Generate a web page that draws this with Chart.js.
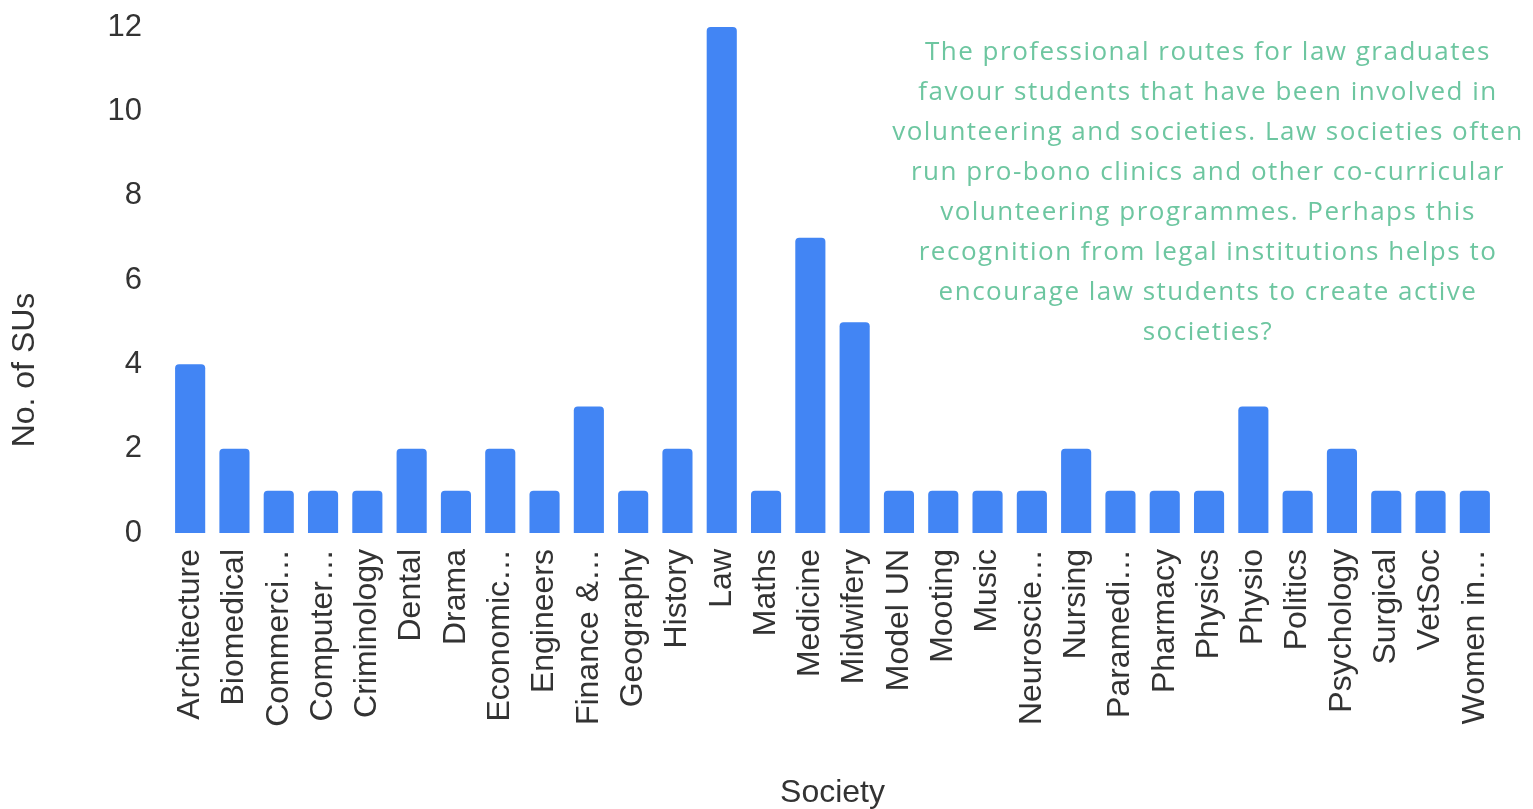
<!DOCTYPE html>
<html>
<head>
<meta charset="utf-8">
<script src="https://cdn.jsdelivr.net/npm/chart.js@4.4.0/dist/chart.umd.min.js"></script>
<style>
  html, body { margin: 0; padding: 0; background: #fff; }
  #wrap { position: relative; width: 1533px; height: 809px; }
  #note {
    position: absolute;
    left: 1208px;
    top: 30px;
    transform: translateX(-50%);
    font-family: "Open Sans", sans-serif;
    font-size: 26px;
    letter-spacing: 1.5px;
    line-height: 40px;
    color: #6dc6a0;
    text-align: center;
    white-space: nowrap;
  }
</style>
</head>
<body>
<div id="wrap">
  <canvas id="chart" width="1533" height="809"></canvas>
  <div id="note">
    The professional routes for law graduates<br>
    favour students that have been involved in<br>
    volunteering and societies. Law societies often<br>
    run pro-bono clinics and other co-curricular<br>
    volunteering programmes. Perhaps this<br>
    recognition from legal institutions helps to<br>
    encourage law students to create active<br>
    societies?
  </div>
</div>
<script>
const societies = [
  "Architecture", "Biomedical", "Commerci…", "Computer…", "Criminology",
  "Dental", "Drama", "Economic…", "Engineers", "Finance &…",
  "Geography", "History", "Law", "Maths", "Medicine",
  "Midwifery", "Model UN", "Mooting", "Music", "Neuroscie…",
  "Nursing", "Paramedi…", "Pharmacy", "Physics", "Physio",
  "Politics", "Psychology", "Surgical", "VetSoc", "Women in…"
];
const suCounts = [
  4, 2, 1, 1, 1,
  2, 1, 2, 1, 3,
  1, 2, 12, 1, 7,
  5, 1, 1, 1, 1,
  2, 1, 1, 1, 3,
  1, 2, 1, 1, 1
];
const yTicks = [0, 2, 4, 6, 8, 10, 12];
const yTitle = "No. of SUs";

const textColor = "#333";
const fontFamily = "'Liberation Sans', Arial, sans-serif";

// y title sits lower than the axis middle in the original, so draw it by hand
const yTitlePlugin = {
  id: "yTitle",
  afterDraw(chart) {
    const c = chart.ctx;
    c.save();
    c.translate(25, 370);
    c.rotate(-Math.PI / 2);
    c.font = "32px " + fontFamily;
    c.fillStyle = textColor;
    c.textAlign = "center";
    c.textBaseline = "middle";
    c.fillText(yTitle, 0, 0);
    c.restore();
  }
};

const ctx = document.getElementById("chart").getContext("2d");

new Chart(ctx, {
  type: "bar",
  data: {
    labels: societies,
    datasets: [{
      label: yTitle,
      data: suCounts,
      backgroundColor: "#4285f4",
      borderRadius: 4,
      categoryPercentage: 1,
      barPercentage: 0.68
    }]
  },
  plugins: [yTitlePlugin],
  options: {
    responsive: false,
    animation: false,
    layout: { padding: { top: 0, right: 36, bottom: 0, left: 0 } },
    plugins: {
      legend: { display: false },
      tooltip: { enabled: false }
    },
    scales: {
      x: {
        grid: { display: false, drawTicks: false },
        border: { display: false },
        ticks: {
          autoSkip: false,
          minRotation: 90,
          maxRotation: 90,
          padding: 16,
          color: textColor,
          font: { family: fontFamily, size: 32 }
        },
        title: {
          display: true,
          text: "Society",
          color: textColor,
          padding: 0,
          font: { family: fontFamily, size: 32, lineHeight: 1 }
        },
        afterFit: s => { s.height = 276; }
      },
      y: {
        min: 0,
        max: 12,
        grid: { display: false, drawTicks: false },
        border: { display: false },
        afterBuildTicks: s => { s.ticks = yTicks.map(v => ({ value: v })); },
        ticks: {
          padding: 26,
          color: textColor,
          font: { family: fontFamily, size: 31 }
        },
        afterFit: s => {
          s.width = 168;
          s.paddingTop = 27;
          s.paddingBottom = 0;
        }
      }
    }
  }
});
</script>
</body>
</html>
